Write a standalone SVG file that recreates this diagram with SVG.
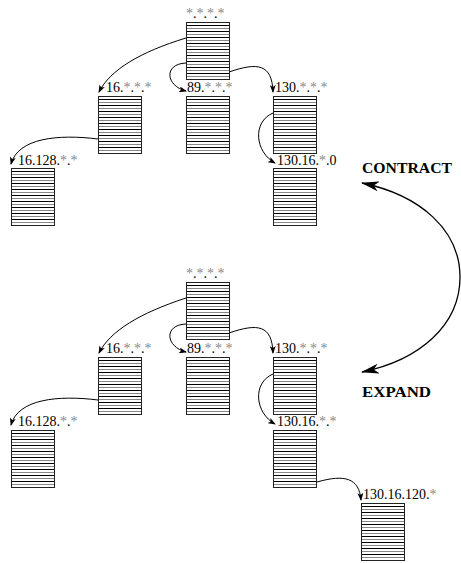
<svg xmlns="http://www.w3.org/2000/svg" xmlns:xlink="http://www.w3.org/1999/xlink" width="461" height="563" viewBox="0 0 461 563">
<style>
.lbl{font-family:"Liberation Serif","Times New Roman",serif;font-size:14px;fill:#000}
.st{fill:#888}
.big{font-family:"Liberation Serif","Times New Roman",serif;font-size:15px;font-weight:bold;fill:#000}
.con{fill:none;stroke:#000;stroke-width:1}
.big-arc{fill:none;stroke:#000;stroke-width:1.3}
.bk{stroke:#000;stroke-width:1}
.gy{stroke:#888;stroke-width:1}
</style>
<defs>
<marker id="ah" markerWidth="8" markerHeight="6" refX="7" refY="3" orient="auto" markerUnits="userSpaceOnUse">
<path d="M0,0 L8,3 L0,6 L2,3 z" fill="#000"/>
</marker>
<marker id="bah" markerWidth="18" markerHeight="10" refX="17" refY="5" orient="auto-start-reverse" markerUnits="userSpaceOnUse">
<path d="M0,0 L18,5 L0,10 L5,5 z" fill="#000"/>
</marker>
<g id="blk">
<rect x="0" y="0" width="44" height="58" fill="#fff"/>
<g>
<line class="bk" x1="0" y1="3.5" x2="44" y2="3.5"/>
<line class="gy" x1="0" y1="6.5" x2="44" y2="6.5"/>
<line class="bk" x1="0" y1="9.5" x2="44" y2="9.5"/>
<line class="gy" x1="0" y1="12.5" x2="44" y2="12.5"/>
<line class="bk" x1="0" y1="15.5" x2="44" y2="15.5"/>
<line class="gy" x1="0" y1="18.5" x2="44" y2="18.5"/>
<line class="bk" x1="0" y1="21.5" x2="44" y2="21.5"/>
<line class="gy" x1="0" y1="24.5" x2="44" y2="24.5"/>
<line class="bk" x1="0" y1="27.5" x2="44" y2="27.5"/>
<line class="gy" x1="0" y1="30.5" x2="44" y2="30.5"/>
<line class="bk" x1="0" y1="33.5" x2="44" y2="33.5"/>
<line class="gy" x1="0" y1="36.5" x2="44" y2="36.5"/>
<line class="bk" x1="0" y1="39.5" x2="44" y2="39.5"/>
<line class="gy" x1="0" y1="42.5" x2="44" y2="42.5"/>
<line class="bk" x1="0" y1="45.5" x2="44" y2="45.5"/>
<line class="gy" x1="0" y1="48.5" x2="44" y2="48.5"/>
<line class="bk" x1="0" y1="51.5" x2="44" y2="51.5"/>
<line class="gy" x1="0" y1="54.5" x2="44" y2="54.5"/>
</g>
<rect x="0.5" y="0.5" width="43" height="57" fill="none" stroke="#222" stroke-width="1"/>
</g>
</defs>

<g id="connectors">
<path class="con" marker-end="url(#ah)" d="M186,38 C140,52 110,70 99,92"/>
<path class="con" marker-end="url(#ah)" d="M186,63 C163,64 166,86 186,91"/>
<path class="con" marker-end="url(#ah)" d="M229,72 C258,62 272,64 273,92"/>
<path class="con" marker-end="url(#ah)" d="M98,139 C58,134 18,138 11,164"/>
<path class="con" marker-end="url(#ah)" d="M273,113 C252,122 255,152 275,163"/>

<path class="con" marker-end="url(#ah)" d="M186,298 C140,313 110,331 99,353"/>
<path class="con" marker-end="url(#ah)" d="M186,324 C163,325 166,347 186,352"/>
<path class="con" marker-end="url(#ah)" d="M229,333 C258,323 272,325 273,353"/>
<path class="con" marker-end="url(#ah)" d="M98,400 C58,395 18,399 11,425"/>
<path class="con" marker-end="url(#ah)" d="M273,374 C252,383 255,413 275,424"/>
<path class="con" marker-end="url(#ah)" d="M317,482 C345,474 359,478 361,500"/>

<path class="big-arc" marker-start="url(#bah)" marker-end="url(#bah)" d="M362,183 C420,195 460,230 460,277 C460,325 420,360 362,372" />
</g>

<g id="contract"><text class="big" x="362" y="173" textLength="90" lengthAdjust="spacingAndGlyphs">CONTRACT</text></g>
<g id="expand"><text class="big" x="362" y="397" textLength="69" lengthAdjust="spacingAndGlyphs">EXPAND</text></g>

<g id="a_root"><use xlink:href="#blk" x="186" y="22"/><text class="lbl" x="186" y="18"><tspan class="st">*</tspan>.<tspan class="st">*</tspan>.<tspan class="st">*</tspan>.<tspan class="st">*</tspan></text></g>
<g id="a_16"><use xlink:href="#blk" x="98" y="96"/><text class="lbl" x="106" y="92">16.<tspan class="st">*</tspan>.<tspan class="st">*</tspan>.<tspan class="st">*</tspan></text></g>
<g id="a_89"><use xlink:href="#blk" x="186" y="96"/><text class="lbl" x="187" y="92">89.<tspan class="st">*</tspan>.<tspan class="st">*</tspan>.<tspan class="st">*</tspan></text></g>
<g id="a_130"><use xlink:href="#blk" x="273" y="96"/><text class="lbl" x="275" y="92">130.<tspan class="st">*</tspan>.<tspan class="st">*</tspan>.<tspan class="st">*</tspan></text></g>
<g id="a_16_128"><use xlink:href="#blk" x="11" y="168"/><text class="lbl" x="18" y="165">16.128.<tspan class="st">*</tspan>.<tspan class="st">*</tspan></text></g>
<g id="a_130_16"><use xlink:href="#blk" x="273" y="168"/><text class="lbl" x="277" y="165">130.16.<tspan class="st">*</tspan>.0</text></g>

<g id="b_root"><use xlink:href="#blk" x="186" y="282"/><text class="lbl" x="186" y="278"><tspan class="st">*</tspan>.<tspan class="st">*</tspan>.<tspan class="st">*</tspan>.<tspan class="st">*</tspan></text></g>
<g id="b_16"><use xlink:href="#blk" x="98" y="357"/><text class="lbl" x="106" y="353">16.<tspan class="st">*</tspan>.<tspan class="st">*</tspan>.<tspan class="st">*</tspan></text></g>
<g id="b_89"><use xlink:href="#blk" x="186" y="357"/><text class="lbl" x="187" y="353">89.<tspan class="st">*</tspan>.<tspan class="st">*</tspan>.<tspan class="st">*</tspan></text></g>
<g id="b_130"><use xlink:href="#blk" x="273" y="357"/><text class="lbl" x="275" y="353">130.<tspan class="st">*</tspan>.<tspan class="st">*</tspan>.<tspan class="st">*</tspan></text></g>
<g id="b_16_128"><use xlink:href="#blk" x="11" y="430"/><text class="lbl" x="18" y="426">16.128.<tspan class="st">*</tspan>.<tspan class="st">*</tspan></text></g>
<g id="b_130_16"><use xlink:href="#blk" x="273" y="430"/><text class="lbl" x="277" y="426">130.16.<tspan class="st">*</tspan>.<tspan class="st">*</tspan></text></g>
<g id="b_130_16_120"><use xlink:href="#blk" x="361" y="503"/><text class="lbl" x="363" y="499">130.16.120.<tspan class="st">*</tspan></text></g>
</svg>
